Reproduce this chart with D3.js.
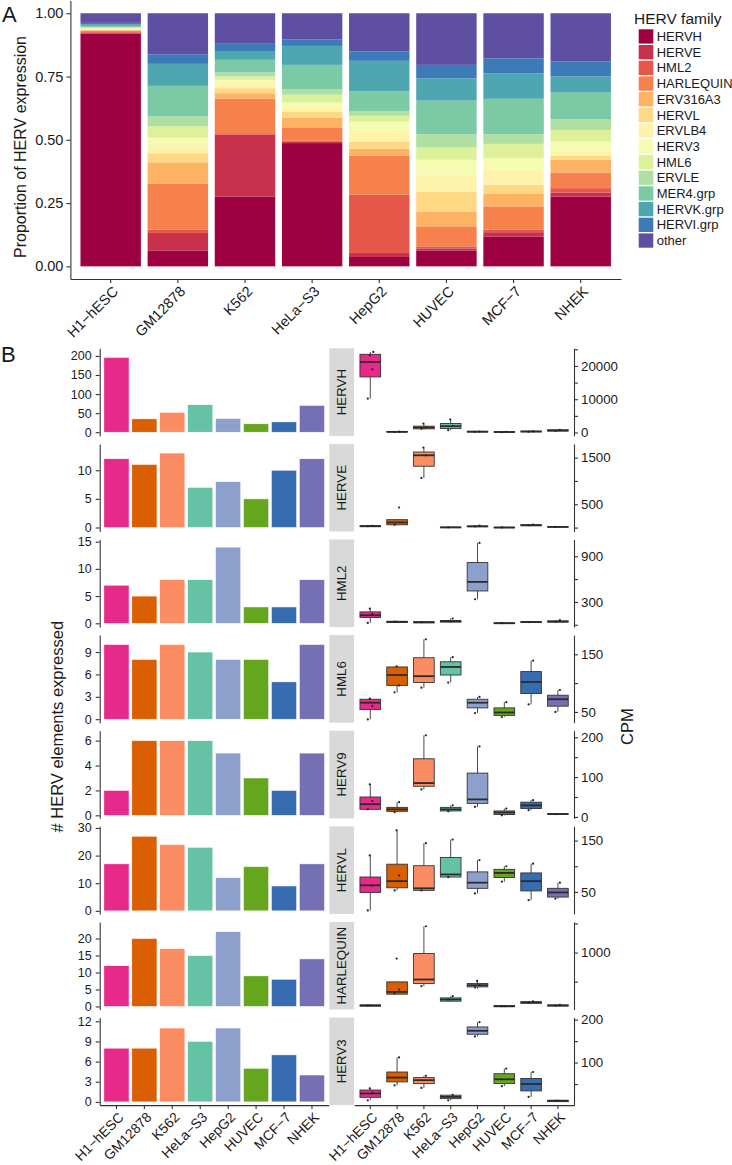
<!DOCTYPE html>
<html>
<head>
<meta charset="utf-8">
<script src="https://cdn.jsdelivr.net/npm/d3@7"></script>
<style>
body { margin: 0; background: #fff; }
text { font-family: "Liberation Sans", Arial, sans-serif; fill: #1a1a1a; }
</style>
</head>
<body>
<script>
// ---- data ----
var cells = ["H1−hESC", "GM12878", "K562", "HeLa−S3", "HepG2", "HUVEC", "MCF−7", "NHEK"];
var families = ["HERVH", "HERVE", "HML2", "HARLEQUIN", "ERV316A3", "HERVL", "ERVLB4", "HERV3",
                "HML6", "ERVLE", "MER4.grp", "HERVK.grp", "HERVI.grp", "other"];

// proportion of HERV expression per cell line, in family order (bottom to top)
var propH1    = [0.920, 0.003, 0.003, 0.004, 0.003, 0.003, 0.003, 0.002, 0.002, 0.003, 0.004, 0.007, 0.005, 0.038];
var propGM    = [0.063, 0.069, 0.013, 0.181, 0.085, 0.036, 0.033, 0.029, 0.044, 0.039, 0.121, 0.087, 0.038, 0.162];
var propK562  = [0.276, 0.245, 0.005, 0.136, 0.022, 0.020, 0.020, 0.013, 0.013, 0.016, 0.050, 0.035, 0.031, 0.118];
var propHeLa  = [0.487, 0.005, 0.004, 0.053, 0.039, 0.024, 0.017, 0.018, 0.031, 0.022, 0.096, 0.075, 0.026, 0.103];
var propHepG2 = [0.037, 0.016, 0.230, 0.154, 0.027, 0.029, 0.040, 0.039, 0.023, 0.019, 0.077, 0.121, 0.037, 0.151];
var propHUVEC = [0.063, 0.008, 0.008, 0.079, 0.059, 0.079, 0.066, 0.059, 0.049, 0.052, 0.133, 0.088, 0.053, 0.204];
var propMCF7  = [0.118, 0.017, 0.010, 0.092, 0.049, 0.036, 0.060, 0.046, 0.056, 0.038, 0.140, 0.101, 0.059, 0.178];
var propNHEK  = [0.276, 0.016, 0.017, 0.062, 0.050, 0.016, 0.017, 0.039, 0.046, 0.043, 0.105, 0.063, 0.059, 0.191];

var bFamilies = ["HERVH", "HERVE", "HML2", "HML6", "HERV9", "HERVL", "HARLEQUIN", "HERV3"];

// # HERV elements expressed
var countHERVH     = [196, 35, 52, 72, 36, 22, 27, 70];
var countHERVE     = [12, 11, 13, 7, 8, 5, 10, 12];
var countHML2      = [7, 5, 8, 8, 14, 3, 3, 8];
var countHML6      = [10, 8, 10, 9, 8, 8, 5, 10];
var countHERV9     = [2, 6, 6, 6, 5, 3, 2, 5];
var countHERVL     = [17, 27, 24, 23, 12, 16, 9, 17];
var countHARLEQUIN = [12, 20, 17, 15, 22, 9, 8, 14];
var countHERV3     = [8, 8, 11, 9, 11, 5, 7, 4];

var countTicks = [[0, 50, 100, 150, 200], [0, 5, 10], [0, 5, 10, 15], [0, 3, 6, 9],
                  [0, 2, 4, 6], [0, 10, 20, 30], [0, 5, 10, 15, 20], [0, 3, 6, 9, 12]];
var countLimits = [[-9.7, 220], [-0.7, 14.6], [-0.7, 15.4], [-0.47, 11.27],
                   [-0.24, 6.8], [-1.1, 30.6], [-0.9, 24.9], [-0.48, 12.57]];

// CPM boxplots: [lower whisker, q1, median, q3, upper whisker]
var boxHERVH = [[10200, 16700, 21200, 23500, 24200], [100, 150, 200, 300, 400], [900, 1100, 1500, 1900, 2700],
                [700, 1200, 1900, 2700, 3900], [100, 150, 250, 350, 450], [50, 100, 150, 250, 350],
                [150, 200, 300, 400, 500], [300, 450, 600, 800, 1000]];
var boxHERVE = [[15, 20, 30, 40, 50], [50, 60, 110, 170, 170], [1064, 1315, 1550, 1620, 1715], [0, 2, 5, 8, 10],
                [15, 20, 25, 35, 45], [0, 1, 3, 5, 8], [30, 40, 50, 60, 70], [5, 10, 15, 20, 25]];
var boxHML2 = [[24, 95, 125, 169, 213], [25, 30, 38, 45, 55], [20, 25, 33, 40, 50], [25, 35, 46, 55, 82],
               [335, 444, 563, 817, 1075], [10, 15, 20, 25, 30], [25, 30, 35, 40, 50], [30, 35, 42, 50, 60]];
var boxHML6 = [[37, 54, 66, 72, 73], [84, 96, 114, 128, 129], [92, 101, 112, 144, 176], [101, 114, 128, 137, 145],
               [48, 57, 66, 72, 76], [41, 44, 49, 57, 67], [63, 82, 102, 120, 139], [50, 60, 72, 79, 88]];
var boxHERV9 = [[19, 19, 32, 50, 82], [12, 14, 19, 24, 37], [69, 77, 85, 146, 205], [14, 15, 19, 24, 29],
                [25, 34, 44, 110, 177], [4, 6, 11, 15, 21], [17, 21, 29, 37, 42], [5, 6, 7, 8, 9]];
var boxHERVL = [[14, 49, 63, 79, 121], [53, 58, 71, 104, 170], [53, 53, 57, 101, 145], [78, 79, 84, 117, 152],
                [47, 57, 68, 89, 112], [70, 78, 87, 94, 100], [34, 52, 71, 87, 105], [37, 40, 49, 57, 68]];
var boxHARLEQUIN = [[70, 80, 91, 100, 110], [280, 285, 324, 496, 500], [422, 468, 537, 983, 1451], [153, 165, 194, 221, 250],
                    [382, 410, 439, 468, 513], [60, 70, 79, 88, 95], [120, 130, 142, 155, 165], [75, 82, 91, 100, 108]];
var boxHERV3 = [[12, 19, 28, 36, 40], [47, 55, 65, 78, 112], [41, 51, 59, 65, 69], [12, 16, 20, 24, 25],
                [161, 166, 174, 183, 194], [45, 51, 61, 74, 86], [20, 34, 50, 63, 78], [8, 9, 11, 12, 14]];

// replicate points drawn over the boxes
var dotsHERVH = [[10200, 19000, 23200, 24200], [150, 250], [1100, 1500, 2700], [700, 2000, 3900], [200, 300], [100, 200], [250, 350], [500, 800]];
var dotsHERVE = [[30, 35], [60, 430], [1064, 1550, 1715], [5], [25, 40], [3], [50, 65], [15]];
var dotsHML2 = [[24, 140, 213], [40], [33], [46, 82], [335, 1075], [20], [35], [42, 60]];
var dotsHML6 = [[37, 60, 73], [84, 96, 129], [92, 176], [101, 145], [48, 76], [41, 67], [63, 139], [50, 88]];
var dotsHERV9 = [[19, 40, 82], [12, 37], [69, 205], [14, 29], [25, 177], [4, 21], [17, 42], [7]];
var dotsHERVL = [[14, 62, 121], [53, 82, 170], [53, 145], [79, 152], [47, 112], [70, 100], [34, 105], [37, 68]];
var dotsHARLEQUIN = [[91], [300, 365, 897], [422, 1451], [194, 250], [400, 439, 513], [79], [142, 160], [91, 100]];
var dotsHERV3 = [[12, 30, 40], [47, 112], [41, 69], [12, 25], [161, 194], [45, 86], [20, 78], [11]];

var cpmTicks = [[0, 5000, 10000, 15000, 20000, 25000], [0, 500, 1000, 1500], [0, 300, 600, 900], [50, 100, 150],
                [0, 50, 100, 150, 200], [50, 100, 150], [500, 1000, 1500], [50, 100, 150, 200]];
var cpmLabels = [["0", "", "10000", "", "20000", ""], ["", "500", "", "1500"], ["", "300", "", "900"], ["50", "", "150"],
                 ["0", "", "100", "", "200"], ["50", "", "150"], ["", "1000", ""], ["", "100", "", "200"]];
var cpmLimits = [[-1020, 25300], [-84, 1794], [-31, 1120], [31.3, 183.3],
                 [-3.5, 216.6], [7.2, 177.8], [22, 1526], [0.9, 205]];

// ---- styles ----
var spectral = ["#9E0142", "#D53E4F", "#F46D43", "#FDAE61", "#FEE08B", "#FFFFBF",
                "#E6F598", "#ABDDA4", "#66C2A5", "#3288BD", "#5E4FA2"];
var cellColors = ["#E7298A", "#D95F02", "#FC8D62", "#66C2A5", "#8DA0CB", "#66A61E", "#386CB0", "#7570B3"];

function main() {
	var w = 732, h = 1165;

	var svg = d3.select("body").append("svg")
				.attr("width", w)
				.attr("height", h);

	var ramp = d3.scaleLinear().domain(d3.range(11)).range(spectral).interpolate(d3.interpolateRgb);
	var famColor = d3.scaleOrdinal()
					.domain(families)
					.range(families.map(function(f, i){ return ramp(i * 10 / 13); }));

	function styleAxis(g, fs) {
		g.attr("font-size", null).attr("font-family", null);
		g.select(".domain").attr("stroke", "#333").attr("stroke-width", 1.1);
		g.selectAll(".tick line").attr("stroke", "#333").attr("stroke-width", 1.1);
		g.selectAll(".tick text").attr("fill", "#262626").style("font-size", fs + "px");
	}

	// top-right corner of each label sits just under its tick
	function rotateLabels(g, dx, dy) {
		g.selectAll(".tick text")
			.attr("x", 0).attr("y", 0).attr("dy", "0.72em")
			.attr("text-anchor", "end")
			.attr("transform", "translate(" + dx + "," + dy + ") rotate(-45)");
	}

	// ================= panel A =================
	var table = cells.map(function(c, i){
		var props = [propH1, propGM, propK562, propHeLa, propHepG2, propHUVEC, propMCF7, propNHEK][i];
		var row = {cell: c};
		families.forEach(function(f, j){ row[f] = props[j]; });
		return row;
	});
	var series = d3.stack().keys(families)(table);

	var xA = d3.scaleBand().domain(cells).range([70.4, 621]).paddingInner(0.1).paddingOuter(0.15);
	var yA = d3.scaleLinear().domain([-0.05, 1.05]).range([279, 0.6]);

	svg.append("g")
		.selectAll("g")
		.data(series)
		.enter()
		.append("g")
		.attr("fill", function(d){ return famColor(d.key); })
		.selectAll("rect")
		.data(function(d){ return d; })
		.enter()
		.append("rect")
		.attr("x", function(d){ return xA(d.data.cell); })
		.attr("width", xA.bandwidth())
		.attr("y", function(d){ return yA(d[1]); })
		.attr("height", function(d){ return yA(d[0]) - yA(d[1]); });

	var gyA = svg.append("g")
				.attr("transform", "translate(70.4,0)")
				.call(d3.axisLeft(yA).tickValues([0, 0.25, 0.5, 0.75, 1]).tickFormat(d3.format(".2f")).tickSize(4).tickSizeOuter(0));
	styleAxis(gyA, 14.5);

	var gxA = svg.append("g")
				.attr("transform", "translate(0,279)")
				.call(d3.axisBottom(xA).tickSize(4).tickSizeOuter(0));
	styleAxis(gxA, 14.5);
	rotateLabels(gxA, 1, 6);

	svg.append("text")
		.attr("transform", "translate(20,147) rotate(-90)")
		.attr("text-anchor", "middle")
		.attr("dy", "0.35em")
		.style("font-size", "16px")
		.text("Proportion of HERV expression");

	svg.append("text").attr("x", 2).attr("y", 22).style("font-size", "22px").text("A");

	// legend
	var legend = svg.append("g");
	legend.append("text").attr("x", 634).attr("y", 24).style("font-size", "15.5px").text("HERV family");
	legend.selectAll("rect")
		.data(families)
		.enter()
		.append("rect")
		.attr("x", 638.7)
		.attr("y", function(d, i){ return 29.3 + i * 15.7; })
		.attr("width", 14.6)
		.attr("height", 14.3)
		.attr("fill", function(d){ return famColor(d); });
	legend.selectAll(".lab")
		.data(families)
		.enter()
		.append("text")
		.attr("class", "lab")
		.attr("x", 656.7)
		.attr("y", function(d, i){ return 36.5 + i * 15.7; })
		.attr("dy", "0.35em")
		.style("font-size", "13px")
		.text(function(d){ return d; });

	// ================= panel B =================
	svg.append("text").attr("x", 1).attr("y", 362).style("font-size", "22px").text("B");

	var counts = [countHERVH, countHERVE, countHML2, countHML6, countHERV9, countHERVL, countHARLEQUIN, countHERV3];
	var boxes = [boxHERVH, boxHERVE, boxHML2, boxHML6, boxHERV9, boxHERVL, boxHARLEQUIN, boxHERV3];
	var dots = [dotsHERVH, dotsHERVE, dotsHML2, dotsHML6, dotsHERV9, dotsHERVL, dotsHARLEQUIN, dotsHERV3];

	var top0 = 348.3, rowH = 87.6, rowStep = 95.6;
	var xL = d3.scaleBand().domain(cells).range([99.7, 328.7]).paddingInner(0.1).paddingOuter(0.15);
	var xR = d3.scaleBand().domain(cells).range([354.2, 574]).paddingInner(0.1).paddingOuter(0.15);
	var boxW = xR.step() * 0.77;
	var jitter = [-2.5, 2, -0.5, 3, 0.5];

	bFamilies.forEach(function(fam, i){
		var top = top0 + i * rowStep;
		var bottom = top + rowH;

		// bars
		var yC = d3.scaleLinear().domain(countLimits[i]).range([bottom, top]);
		svg.append("g")
			.selectAll("rect")
			.data(counts[i])
			.enter()
			.append("rect")
			.attr("x", function(d, j){ return xL(cells[j]); })
			.attr("width", xL.bandwidth())
			.attr("y", function(d){ return yC(d); })
			.attr("height", function(d){ return yC(0) - yC(d); })
			.attr("fill", function(d, j){ return cellColors[j]; })
			.attr("stroke", "#fff")
			.attr("stroke-width", 0.5);

		var gyL = svg.append("g")
					.attr("transform", "translate(99.7,0)")
					.call(d3.axisLeft(yC).tickValues(countTicks[i]).tickFormat(d3.format("d"))
						.tickSize(4).tickSizeOuter(0).tickPadding(4));
		styleAxis(gyL, 12.5);

		// facet strip
		svg.append("rect")
			.attr("x", 329.3).attr("y", top)
			.attr("width", 24.8).attr("height", rowH)
			.attr("fill", "#D9D9D9");
		svg.append("text")
			.attr("transform", "translate(341.7," + (top + rowH / 2) + ") rotate(-90)")
			.attr("text-anchor", "middle")
			.attr("dy", "0.36em")
			.style("font-size", "13.3px")
			.text(fam);

		// boxplots
		var yP = d3.scaleLinear().domain(cpmLimits[i]).range([bottom, top]);
		var gb = svg.append("g");
		boxes[i].forEach(function(b, j){
			var cx = xR(cells[j]) + xR.bandwidth() / 2;
			var g = gb.append("g");
			g.append("line").attr("x1", cx).attr("x2", cx).attr("y1", yP(b[0])).attr("y2", yP(b[1]))
				.attr("stroke", "#333").attr("stroke-width", 0.9);
			g.append("line").attr("x1", cx).attr("x2", cx).attr("y1", yP(b[3])).attr("y2", yP(b[4]))
				.attr("stroke", "#333").attr("stroke-width", 0.9);
			g.append("rect")
				.attr("x", cx - boxW / 2).attr("width", boxW)
				.attr("y", yP(b[3])).attr("height", Math.max(0.5, yP(b[1]) - yP(b[3])))
				.attr("fill", cellColors[j])
				.attr("stroke", "#333").attr("stroke-width", 0.9);
			g.append("line").attr("x1", cx - boxW / 2).attr("x2", cx + boxW / 2)
				.attr("y1", yP(b[2])).attr("y2", yP(b[2]))
				.attr("stroke", "#2b2b2b").attr("stroke-width", 1.8);
			g.selectAll("circle")
				.data(dots[i][j])
				.enter()
				.append("circle")
				.attr("cx", function(d, k){ return cx + jitter[k % jitter.length]; })
				.attr("cy", function(d){ return yP(d); })
				.attr("r", 1.1)
				.attr("fill", "#222");
		});

		var gyR = svg.append("g")
					.attr("transform", "translate(574,0)")
					.call(d3.axisRight(yP).tickValues(cpmTicks[i])
						.tickFormat(function(d, k){ return cpmLabels[i][k]; })
						.tickSize(4).tickSizeOuter(0));
		styleAxis(gyR, 13.3);
	});

	var axisY = top0 + 7 * rowStep + rowH;
	var gxL = svg.append("g")
				.attr("transform", "translate(0," + axisY + ")")
				.call(d3.axisBottom(xL).tickSize(4).tickSizeOuter(0));
	styleAxis(gxL, 13.8);
	rotateLabels(gxL, 1, 6);

	var gxR = svg.append("g")
				.attr("transform", "translate(0," + axisY + ")")
				.call(d3.axisBottom(xR).tickSize(4).tickSizeOuter(0));
	styleAxis(gxR, 13.8);
	rotateLabels(gxR, 1, 6);

	svg.append("text")
		.attr("transform", "translate(57," + (top0 + (axisY - top0) / 2) + ") rotate(-90)")
		.attr("text-anchor", "middle")
		.attr("dy", "0.35em")
		.style("font-size", "16.5px")
		.text("# HERV elements expressed");

	svg.append("text")
		.attr("transform", "translate(627," + (top0 + (axisY - top0) / 2) + ") rotate(-90)")
		.attr("text-anchor", "middle")
		.attr("dy", "0.35em")
		.style("font-size", "16.5px")
		.text("CPM");
}

main();
</script>
</body>
</html>
